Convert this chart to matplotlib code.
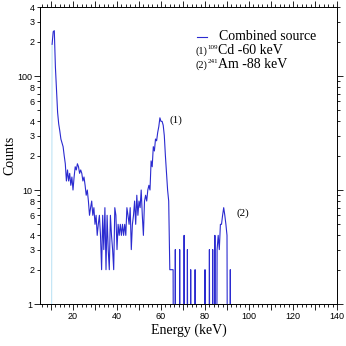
import numpy as np
import matplotlib
matplotlib.use("Agg")
import matplotlib.pyplot as plt
from matplotlib.ticker import MultipleLocator, LogLocator, FuncFormatter
from matplotlib.lines import Line2D

# spectrum, 0.5 keV bins starting at 10 keV
energy_start = 10.0
energy_step = 0.5
counts = [
    0, 190, 245, 250, 120, 75, 48, 38, 33, 28,
    26, 24, 20, 17, 12, 15, 12, 14, 11, 13,
    10, 13, 16, 15, 17, 16, 14, 15, 14, 12,
    13, 11, 9, 10, 8, 6, 7, 8, 6, 7,
    5, 6, 4, 5, 6, 4, 2, 6, 3, 7,
    2, 6, 3, 2, 6, 4, 3, 2, 7, 6,
    3, 5, 4, 5, 4, 5, 4, 5, 4, 7,
    6, 5, 7, 3, 5, 6, 8, 5, 9, 6,
    8, 7, 10, 6, 4, 8, 9, 8, 10, 11,
    10, 18, 16, 24, 22, 28, 27, 32, 36, 43,
    40, 40, 37, 30, 20, 14, 10, 8, 2, 2,
    2, 2, 0, 3, 0, 0, 0, 3, 0, 0,
    0, 4, 0, 0, 3, 0, 0, 2, 0, 0,
    0, 2, 0, 0, 0, 0, 0, 0, 0, 0,
    2, 0, 0, 0, 3, 0, 0, 3, 0, 4,
    0, 3, 4, 3, 5, 5, 6, 7, 6, 5,
    4, 0, 0, 2, 0, 0, 0, 0, 0, 0,
    0, 0, 0, 0, 0, 0, 0, 0, 0, 0,
]
energy = energy_start + energy_step * np.arange(len(counts))
counts = np.array(counts, dtype=float)

legend_title = "Combined source"
isotopes = ["109", "241"]
isotope_text = ["Cd -60 keV", "Am -88 keV"]
peak_labels = ["(1)", "(2)"]
peak_pos = [(67.0, 41.0), (97.0, 6.3)]

W = 346.0
fig = plt.figure(figsize=(3.46, 3.46), dpi=100)
ax = fig.add_axes([40 / W, 1 - 304 / W, 297 / W, (304 - 7.4) / W])

ax.set_yscale('log')
ax.plot(energy[:2], np.clip(counts[:2], 1e-3, None), color='#bfe4f5', lw=0.8)
ax.plot(energy[1:], np.clip(counts[1:], 1e-3, None), color='#2b2bd0', lw=0.8)

ax.set_xlim(5, 140)
ax.set_ylim(1, 400)

ax.xaxis.set_major_locator(MultipleLocator(10))
ax.xaxis.set_minor_locator(MultipleLocator(2))
ax.xaxis.set_major_formatter(FuncFormatter(lambda v, p: '%d' % v if int(round(v)) % 20 == 0 else ''))
ax.yaxis.set_major_locator(LogLocator(base=10))
ax.yaxis.set_minor_locator(LogLocator(base=10, subs=np.arange(2, 10)))


def minor_fmt(v, p):
    m = v / 10 ** np.floor(np.log10(v) + 1e-9)
    m = int(round(m))
    return str(m) if m in (2, 3, 4, 6, 8) else ''


ax.yaxis.set_major_formatter(FuncFormatter(lambda v, p: '%d' % v))
ax.yaxis.set_minor_formatter(FuncFormatter(minor_fmt))

ax.tick_params(which='both', direction='out', top=True, right=True,
               labelsize=6.5, width=0.6, pad=1.5)
ax.tick_params(which='major', length=4)
ax.tick_params(which='minor', length=2.5)
for lab in ax.get_xticklabels() + ax.get_yticklabels(minor=True) + ax.get_yticklabels():
    lab.set_family('Liberation Sans')
for s in ax.spines.values():
    s.set_linewidth(0.7)

ax.set_xlabel('Energy (keV)', family='Liberation Serif', fontsize=10, labelpad=2)
ax.set_ylabel('Counts', family='Liberation Serif', fontsize=10, labelpad=1)

# legend block
fig.add_artist(Line2D([197 / W, 207 / W], [1 - 37 / W, 1 - 37 / W], color='#2b2bd0', lw=0.8))
fig.text(219 / W, 1 - 37 / W, legend_title, family='Liberation Serif', fontsize=10, va='center')
for i in range(2):
    y = 1 - (51 + 14 * i) / W
    fig.text(195 / W, y, peak_labels[i], family='Liberation Serif', fontsize=7.5, va='center')
    fig.text(207.5 / W, y + 3.5 / W, isotopes[i], family='Liberation Serif', fontsize=5, va='center')
    fig.text(218 / W, y, isotope_text[i], family='Liberation Serif', fontsize=10, va='center')

for lab, (px, py) in zip(peak_labels, peak_pos):
    ax.text(px, py, lab, family='Liberation Serif', fontsize=8, ha='center', va='center')

fig.savefig('out.png', dpi=100)
